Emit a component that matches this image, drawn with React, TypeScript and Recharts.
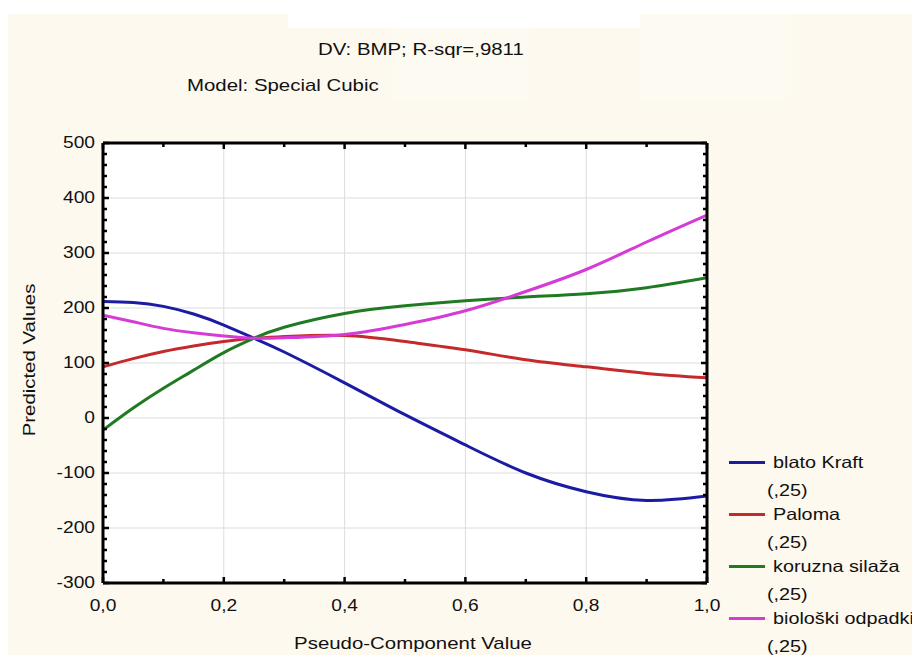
import React from 'react';
import { LineChart, Line, XAxis, YAxis, CartesianGrid, Legend } from 'recharts';

// pseudo-component value (x) and predicted BMP for each component
const xValues = [0, 0.05, 0.1, 0.15, 0.2, 0.25, 0.3, 0.4, 0.5, 0.6, 0.7, 0.8, 0.9, 1.0];
const blatoKraft = [212, 210, 203, 189, 169, 145, 120, 64, 6, -49, -100, -134, -150, -142];
const paloma = [93, 108, 121, 131, 139, 145, 148, 150, 139, 124, 106, 93, 81, 73];
const koruznaSilaza = [-22, 18, 54, 87, 119, 145, 165, 190, 204, 213, 220, 226, 237, 255];
const bioloskiOdpadki = [187, 175, 163, 155, 149, 145, 146, 152, 170, 195, 230, 270, 320, 369];

const seriesKeys = ['blato', 'paloma', 'koruzna', 'biolo'];
const seriesNames = ['blato Kraft', 'Paloma', 'koruzna silaža', 'biološki odpadki'];
const seriesColors = ['#1b1ba3', '#c42a2a', '#1f7a22', '#d63bd6'];
const legendSuffix = '(,25)';

const xTicks = [0, 0.1, 0.2, 0.3, 0.4, 0.5, 0.6, 0.7, 0.8, 0.9, 1.0];
const xGrid = [0.2, 0.4, 0.6, 0.8];
const yGrid = [-200, -100, 0, 100, 200, 300, 400];
const yTicks = Array.from({ length: 41 }, (_, i) => -300 + i * 20);

const titleTop = 'DV: BMP; R-sqr=,9811';
const titleModel = 'Model: Special Cubic';
const xTitle = 'Pseudo-Component Value';
const yTitle = 'Predicted Values';

const data = xValues.map((x, i) => ({
  x,
  blato: blatoKraft[i],
  paloma: paloma[i],
  koruzna: koruznaSilaza[i],
  biolo: bioloskiOdpadki[i],
}));

const FONT = '"Liberation Sans", Arial, sans-serif';
const CREAM = '#fdf9ef';
const INK = '#111';

const fmt = (v: number) => v.toFixed(1).replace('.', ',');
const isMajorX = (v: number) => Math.round(v * 10) % 2 === 0;

const Stretch = ({ children }: { children: React.ReactNode }) => (
  <span style={{ display: 'inline-block', transform: 'scaleX(1.2)', transformOrigin: 'left center', whiteSpace: 'nowrap' }}>
    {children}
  </span>
);

const BottomTick = (props: any) => {
  const { x, y, payload } = props;
  const major = isMajorX(payload.value);
  return (
    <g>
      <line x1={x} x2={x} y1={y} y2={y - (major ? 6 : 4)} stroke="#000" strokeWidth={2.5} />
      {major && (
        <text transform={`translate(${x},${y + 23}) scale(1.2,1)`} textAnchor="middle" dominantBaseline="central"
          fontSize={16} fontFamily={FONT} fill={INK}>
          {fmt(payload.value)}
        </text>
      )}
    </g>
  );
};

const TopTick = (props: any) => {
  const { x, y, payload } = props;
  const major = isMajorX(payload.value);
  return <line x1={x} x2={x} y1={y} y2={y + (major ? 6 : 4)} stroke="#000" strokeWidth={2.5} />;
};

const LeftTick = (props: any) => {
  const { x, y, payload } = props;
  const major = payload.value % 100 === 0;
  return (
    <g>
      <line x1={x} x2={x + (major ? 6 : 4)} y1={y} y2={y} stroke="#000" strokeWidth={2.5} />
      {major && (
        <text transform={`translate(${x - 8},${y}) scale(1.2,1)`} textAnchor="end" dominantBaseline="central"
          fontSize={16} fontFamily={FONT} fill={INK}>
          {payload.value}
        </text>
      )}
    </g>
  );
};

const RightTick = (props: any) => {
  const { x, y, payload } = props;
  const major = payload.value % 100 === 0;
  return <line x1={x} x2={x - (major ? 6 : 4)} y1={y} y2={y} stroke="#000" strokeWidth={2.5} />;
};

const renderLegend = () => (
  <div style={{ fontFamily: FONT, fontSize: 16.5, color: INK }}>
    {seriesNames.map((name, i) => (
      <div key={name}>
        <div style={{ height: 24, display: 'flex', alignItems: 'center' }}>
          <div style={{ width: 36, height: 3, background: seriesColors[i], marginRight: 8 }} />
          <Stretch>{name}</Stretch>
        </div>
        <div style={{ height: 28, lineHeight: '32px', paddingLeft: 38 }}>
          <Stretch>{legendSuffix}</Stretch>
        </div>
      </div>
    ))}
  </div>
);

const axisLine = { stroke: '#000', strokeWidth: 3 };

export default function App() {
  return (
    <div style={{ position: 'relative', width: 912, height: 647, background: '#fff', fontFamily: FONT, color: INK }}>
      <div style={{ position: 'absolute', left: 0, top: 6, width: 912, height: 641, background: CREAM }} />
      <div style={{ position: 'absolute', left: 280, top: 6, width: 400, height: 14, background: '#fff' }} />
      <div style={{ position: 'absolute', left: 382, top: 20, width: 140, height: 72, background: '#fdfaf2' }} />
      <div style={{ position: 'absolute', left: 632, top: 6, width: 150, height: 86, background: '#fdfaf2' }} />

      <div style={{ position: 'absolute', left: 310, top: 32, height: 20, lineHeight: '20px', fontSize: 17 }}>
        <Stretch>{titleTop}</Stretch>
      </div>
      <div style={{ position: 'absolute', left: 179, top: 68, height: 20, lineHeight: '20px', fontSize: 17 }}>
        <Stretch>{titleModel}</Stretch>
      </div>

      <div style={{ position: 'absolute', left: 0, top: 6 }}>
        <LineChart width={912} height={641} data={data} margin={{ top: 128, right: 212, bottom: 42, left: 45 }}>
          <CartesianGrid xAxisId="b" yAxisId="l" fill="#fff" stroke="#dcdcdc" strokeWidth={1}
            horizontalValues={yGrid} verticalValues={xGrid} />
          <XAxis xAxisId="b" dataKey="x" type="number" domain={[0, 1]} ticks={xTicks} interval={0}
            height={30} tickSize={0} tickMargin={0} tick={<BottomTick />} axisLine={axisLine} allowDataOverflow />
          <XAxis xAxisId="t" orientation="top" dataKey="x" type="number" domain={[0, 1]} ticks={xTicks} interval={0}
            height={1} tickSize={0} tickMargin={0} tick={<TopTick />} axisLine={axisLine} allowDataOverflow />
          <YAxis yAxisId="l" type="number" domain={[-300, 500]} ticks={yTicks} interval={0}
            width={50} tickSize={0} tickMargin={0} tick={<LeftTick />} axisLine={axisLine} allowDataOverflow />
          <YAxis yAxisId="r" orientation="right" type="number" domain={[-300, 500]} ticks={yTicks} interval={0}
            width={1} tickSize={0} tickMargin={0} tick={<RightTick />} axisLine={axisLine} allowDataOverflow />
          {seriesKeys.map((k, i) => (
            <Line key={k} xAxisId="b" yAxisId="l" dataKey={k} name={seriesNames[i]} type="natural"
              stroke={seriesColors[i]} strokeWidth={3} dot={false} activeDot={false} isAnimationActive={false} />
          ))}
          <Legend layout="horizontal" verticalAlign="middle" align="center" content={renderLegend}
            wrapperStyle={{ left: 721, top: 436, width: 191 }} />
        </LineChart>
      </div>

      <div style={{ position: 'absolute', left: 255, top: 626, width: 300, height: 20, lineHeight: '20px', fontSize: 17,
        textAlign: 'center', transform: 'scaleX(1.2)', whiteSpace: 'nowrap' }}>
        {xTitle}
      </div>
      <div style={{ position: 'absolute', left: 22 - 100, top: 352 - 10, width: 200, height: 20, lineHeight: '20px', fontSize: 17,
        textAlign: 'center', transform: 'rotate(-90deg) scaleX(1.2)', whiteSpace: 'nowrap' }}>
        {yTitle}
      </div>
    </div>
  );
}
